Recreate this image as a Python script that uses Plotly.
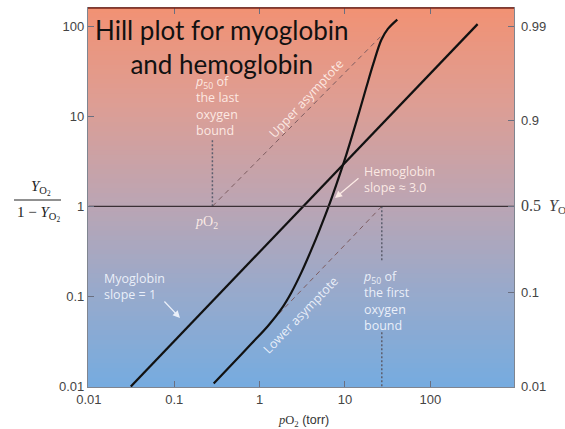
import plotly.graph_objects as go

# values (pO2 in torr, ratio = Y/(1-Y))
mb_po2 = [0.031, 358]
mb_ratio = [0.01, 105]

hb_po2 = [0.29, 0.46, 0.80, 1.26, 1.80, 2.35, 3.10, 4.0, 5.0, 6.4, 7.9, 10.4, 12.9, 14.8, 17.8, 21.5, 26.7, 31.8, 41]
hb_ratio = [0.0108, 0.0171, 0.0298, 0.0473, 0.0726, 0.110, 0.186, 0.322, 0.538, 0.984, 1.73, 3.77, 7.36, 11.4, 20.9, 38.2, 70.5, 92.9, 118]

upper_asym_po2 = [0.28, 26]
upper_asym_ratio = [1, 76]
lower_asym_po2 = [27, 1.6]
lower_asym_ratio = [1, 0.061]

last_p50_po2 = [0.28, 0.28]
last_p50_ratio = [1, 5.5]
first_p50_po2 = [27, 27]
first_p50_upper = [1, 0.25]
first_p50_lower = [0.04, 0.01]

half_po2 = [0.01, 1000]
half_ratio = [1, 1]

x_ticks = [0.01, 0.1, 1, 10, 100, 1000]
x_labels = ["0.01", "0.1", "1", "10", "100", "1000"]
left_ticks = [0.01, 0.1, 1, 10, 100]
left_labels = ["0.01", "0.1", "1", "10", "100"]
right_ticks = [0.0101, 0.111, 1, 9, 99]
right_labels = ["0.01", "0.1",
                "<span style='font-family:Liberation Serif;font-size:16px'>0.5  <i>Y</i><sub>O₂</sub></span>",
                "0.9", "0.99"]

W, H = 565, 429
L, R, T, B = 88, 51, 8, 42


def px(x):
    return (x - L) / (W - L - R)


def py(y):
    return (H - B - y) / (H - T - B)


fig = go.Figure()

# background gradient, salmon at the top to blue at the bottom
stops = [(0.0, (118, 172, 224)), (0.25, (152, 170, 204)), (0.5, (190, 165, 178)),
         (0.75, (222, 158, 148)), (1.0, (242, 146, 116))]
n = 80
for i in range(n):
    f = (i + 0.5) / n
    for (a, ca), (b, cb) in zip(stops[:-1], stops[1:]):
        if a <= f <= b:
            t = (f - a) / (b - a)
            c = tuple(int(ca[k] + (cb[k] - ca[k]) * t) for k in range(3))
            break
    fig.add_shape(type="rect", xref="x domain", yref="y domain",
                  x0=0, x1=1, y0=i / n, y1=(i + 1) / n + 0.002,
                  fillcolor="rgb(%d,%d,%d)" % c, line_width=0, layer="below")

dash_col = "#7c5c60"
dot_col = "#5d5f6e"

fig.add_trace(go.Scatter(x=half_po2, y=half_ratio, yaxis="y2", mode="lines",
                         line=dict(color="#3a3035", width=1.3), hoverinfo="skip"))
fig.add_trace(go.Scatter(x=upper_asym_po2, y=upper_asym_ratio, mode="lines",
                         line=dict(color=dash_col, width=1, dash="5px,4px")))
fig.add_trace(go.Scatter(x=lower_asym_po2, y=lower_asym_ratio, mode="lines",
                         line=dict(color=dash_col, width=1, dash="5px,4px")))
fig.add_trace(go.Scatter(x=last_p50_po2, y=last_p50_ratio, mode="lines",
                         line=dict(color=dot_col, width=1.5, dash="2px,2px")))
fig.add_trace(go.Scatter(x=first_p50_po2, y=first_p50_upper, mode="lines",
                         line=dict(color=dot_col, width=1.5, dash="2px,2px")))
fig.add_trace(go.Scatter(x=first_p50_po2, y=first_p50_lower, mode="lines",
                         line=dict(color=dot_col, width=1.5, dash="2px,2px")))
fig.add_trace(go.Scatter(x=mb_po2, y=mb_ratio, mode="lines",
                         line=dict(color="#111", width=2.2)))
fig.add_trace(go.Scatter(x=hb_po2, y=hb_ratio, mode="lines",
                         line=dict(color="#111", width=2.2, shape="spline", smoothing=1)))

# top border is dark red in the original
fig.add_shape(type="line", xref="x domain", yref="y domain", x0=0, x1=1, y0=1, y1=1,
              line=dict(color="#7a2418", width=1.6))

white_top = "rgba(255,238,232,0.95)"
white_low = "rgba(240,244,252,0.95)"
small = dict(family="Open Sans", size=12.5)

notes = [
    ("<i>p</i><sub>50</sub> of<br>the last<br>oxygen<br>bound", 193, 106, white_top, "left", 0),
    ("Upper asymptote", 306, 98, white_top, "center", -47),
    ("Hemoglobin<br>slope ≈ 3.0", 362, 180, white_top, "left", 0),
    ("Myoglobin<br>slope = 1", 102, 286, white_low, "left", 0),
    ("<i>p</i><sub>50</sub> of<br>the first<br>oxygen<br>bound", 361, 301, white_low, "left", 0),
    ("Lower asymptote", 300, 315, white_low, "center", -46),
]
for text, x, y, col, al, ang in notes:
    fig.add_annotation(text=text, xref="paper", yref="paper", x=px(x), y=py(y),
                       xanchor=al, yanchor="middle",
                       align=al, textangle=ang, showarrow=False,
                       font=dict(color=col, **small))

fig.add_annotation(text="<i>p</i>O<sub>2</sub>", xref="paper", yref="paper", x=px(206), y=py(222),
                   xanchor="center", yanchor="middle", showarrow=False,
                   font=dict(family="Liberation Serif", size=14, color=white_top))

# arrows
fig.add_annotation(text="", xref="paper", yref="paper", x=px(335), y=py(198), ax=25, ay=-21,
                   showarrow=True, arrowhead=2, arrowsize=1.1, arrowwidth=1.3, arrowcolor=white_top)
fig.add_annotation(text="", xref="paper", yref="paper", x=px(180), y=py(318), ax=-17, ay=-18,
                   showarrow=True, arrowhead=2, arrowsize=1.1, arrowwidth=1.3, arrowcolor=white_low)

# title inside the plot
fig.add_annotation(text="Hill plot for myoglobin<br>and hemoglobin", xref="paper", yref="paper",
                   x=px(222), y=py(47), xanchor="center", yanchor="middle",
                   showarrow=False, align="center",
                   font=dict(family="Lato", size=26, color="#111"))

# y axis label as a fraction
serif = dict(family="Liberation Serif", size=15, color="#222")
fig.add_annotation(text="<i>Y</i><sub>O<sub>2</sub></sub>", xref="paper", yref="paper",
                   x=px(41), y=py(188), xanchor="center", yanchor="middle",
                   showarrow=False, font=serif)
fig.add_annotation(text="1 − <i>Y</i><sub>O<sub>2</sub></sub>", xref="paper", yref="paper",
                   x=px(38), y=py(214), xanchor="center", yanchor="middle",
                   showarrow=False, font=serif)
fig.add_shape(type="line", xref="paper", yref="paper", x0=px(14), x1=px(61), y0=py(200), y1=py(200),
              line=dict(color="#222", width=1))

# x axis label
fig.add_annotation(text="<span style='font-family:Liberation Serif'><i>p</i>O<sub>2</sub></span> (torr)",
                   xref="paper", yref="paper", x=px(303), y=py(421), xanchor="center",
                   yanchor="middle", showarrow=False,
                   font=dict(family="Liberation Sans", size=12.5, color="#333"))

tick_font = dict(family="Liberation Sans", size=13, color="#444")
fig.update_layout(
    width=W, height=H,
    margin=dict(l=L, r=R, t=T, b=B, autoexpand=False),
    paper_bgcolor="white",
    plot_bgcolor="white",
    showlegend=False,
    xaxis=dict(type="log", range=[-2.01, 2.98], tickvals=x_ticks, ticktext=x_labels,
               ticks="inside", ticklen=6, tickcolor="#6a6f80", tickfont=tick_font,
               showgrid=False, zeroline=False, showline=True, mirror="ticks",
               linecolor="#7f8590", linewidth=1.3, automargin=False),
    yaxis=dict(type="log", range=[-2.005, 2.2], tickvals=left_ticks, ticktext=left_labels,
               ticks="inside", ticklen=6, tickcolor="#6a6f80", tickfont=tick_font,
               showgrid=False, zeroline=False, showline=True, mirror=True,
               linecolor="#7f8590", linewidth=1.3, automargin=False),
    yaxis2=dict(type="log", range=[-2.005, 2.2], overlaying="y", side="right",
                tickvals=right_ticks, ticktext=right_labels,
                ticks="inside", ticklen=6, tickcolor="#6a6f80", tickfont=tick_font,
                ticklabelstandoff=6, automargin=False,
                showgrid=False, zeroline=False, showline=False),
)

# the page body has a default 8px margin; drop it so the figure sits at the window corner
fig.write_html("out.html", config={"displayModeBar": False},
               post_script="document.body.style.margin='0';")
